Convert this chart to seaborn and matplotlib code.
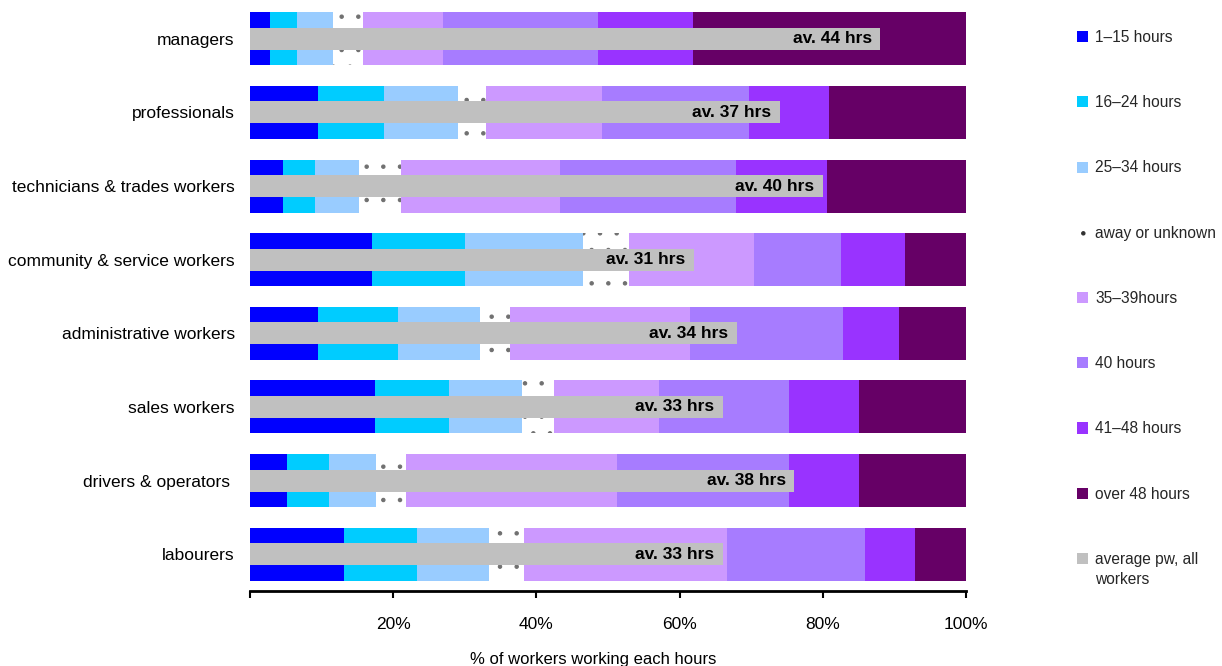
import numpy as np
import pandas as pd
import matplotlib
matplotlib.use('Agg')
import matplotlib.pyplot as plt
from matplotlib.patches import Patch, Rectangle
from matplotlib.legend_handler import HandlerPatch
import seaborn as sns

# Estilo general
sns.set_theme(style='white')
plt.rcParams['font.family'] = ['Liberation Sans', 'DejaVu Sans']
plt.rcParams['hatch.linewidth'] = 0.8

# Datos (% de trabajadores por tramo de horas)
categorias = ['managers', 'professionals', 'technicians & trades workers',
              'community & service workers', 'administrative workers',
              'sales workers', 'drivers & operators ', 'labourers']

h1_15 = [2.8, 9.5, 4.6, 17.1, 9.5, 17.4, 5.2, 13.1]
h16_24 = [3.7, 9.2, 4.5, 12.9, 11.2, 10.4, 5.9, 10.2]
h25_34 = [5.1, 10.3, 6.1, 16.5, 11.4, 10.2, 6.5, 10.1]
ausente = [4.2, 4.0, 5.9, 6.4, 4.2, 4.4, 4.2, 4.8]
h35_39 = [11.1, 16.2, 22.2, 17.5, 25.1, 14.7, 29.5, 28.4]
h40 = [21.7, 20.5, 24.6, 12.2, 21.4, 18.2, 24.0, 19.3]
h41_48 = [13.3, 11.2, 12.7, 8.9, 7.9, 9.7, 9.8, 7.0]
mas48 = [38.1, 19.1, 19.4, 8.5, 9.3, 15.0, 14.9, 7.1]

horas_promedio = [44, 37, 40, 31, 34, 33, 38, 33]

etiquetas = ['1–15 hours', '16–24 hours', '25–34 hours', 'away or unknown',
             '35–39hours', '40 hours', '41–48 hours', 'over 48 hours']
colores = ['#0000ff', '#00ccff', '#99ccff', '#ffffff',
           '#cc99ff', '#a77cff', '#9933ff', '#660066']
gris = '#c0c0c0'

df = pd.DataFrame({'categoria': categorias})
tramos = [h1_15, h16_24, h25_34, ausente, h35_39, h40, h41_48, mas48]
acumulado = np.cumsum(np.array(tramos), axis=0)

fig = plt.figure(figsize=(12.22, 6.66), dpi=100)
ax = fig.add_axes([250 / 1222, 1 - 591 / 666, 716 / 1222, 589 / 666])

# Barras apiladas: se dibujan los acumulados de atrás hacia delante
for k in range(len(tramos) - 1, -1, -1):
    df['valor'] = acumulado[k]
    n_antes = len(ax.patches)
    sns.barplot(data=df, x='valor', y='categoria', orient='h', color=colores[k],
                saturation=1, width=0.72, errorbar=None, linewidth=0, ax=ax)
    if etiquetas[k] == 'away or unknown':
        for p in ax.patches[n_antes:]:
            p.set_hatch('.')
            p.set_edgecolor('#707070')
            p.set_linewidth(0)

# Barra gris: promedio de horas (escala 0-50 hrs sobre 0-100%)
df['promedio'] = np.array(horas_promedio) * 100 / 50
sns.barplot(data=df, x='promedio', y='categoria', orient='h', color=gris,
            saturation=1, width=0.30, errorbar=None, linewidth=0, ax=ax)

for i, h in enumerate(horas_promedio):
    ax.annotate(f'av. {h} hrs', xy=(h * 100 / 50, i), xytext=(-6, 0),
                textcoords='offset points', ha='right', va='center',
                fontsize=12.5, fontweight='bold', color='black')

# Ejes
ax.set_xlim(0, 100)
ax.set_ylim(7.5, -0.5)
ax.set_xticks([0, 20, 40, 60, 80, 100])
ax.set_xticklabels(['', '20%', '40%', '60%', '80%', '100%'])
ax.tick_params(axis='x', direction='out', length=5, width=1.5, pad=14,
               labelsize=12.5, bottom=True, colors='black')
ax.tick_params(axis='y', length=0, pad=11, labelsize=12.5, labelcolor='black')
ax.set_ylabel('')
ax.set_xlabel('% of workers working each hours', fontsize=12, labelpad=14,
              x=0.479, color='black')
for lado in ['top', 'right', 'left']:
    ax.spines[lado].set_visible(False)
ax.spines['bottom'].set_linewidth(2)
ax.spines['bottom'].set_color('black')


# El cuadrado de la última entrada se alinea con la primera línea del texto
def parche_arriba(legend, orig_handle, xdescent, ydescent, width, height, fontsize):
    return Rectangle((-xdescent, -ydescent + 0.75 * fontsize), width, height)


# Leyenda a la derecha
handles = []
for et, c in zip(etiquetas, colores):
    if et == 'away or unknown':
        handles.append(Patch(facecolor='white', edgecolor='#303030', hatch='.',
                             linewidth=0, label=et))
    else:
        handles.append(Patch(facecolor=c, linewidth=0, label=et))
promedio_handle = Patch(facecolor=gris, linewidth=0, label='average pw, all\nworkers')
handles.append(promedio_handle)

leg = fig.legend(handles=handles, loc='upper left',
                 bbox_to_anchor=(1077 / 1222, 1 - 30 / 666),
                 frameon=False, fontsize=11.2, handlelength=0.72, handleheight=0.72,
                 handletextpad=0.45, labelspacing=3.23, borderpad=0, borderaxespad=0,
                 handler_map={promedio_handle: HandlerPatch(patch_func=parche_arriba)})
leg.get_texts()[-1].set_linespacing(1.45)

plt.savefig('out.png', dpi=100)
